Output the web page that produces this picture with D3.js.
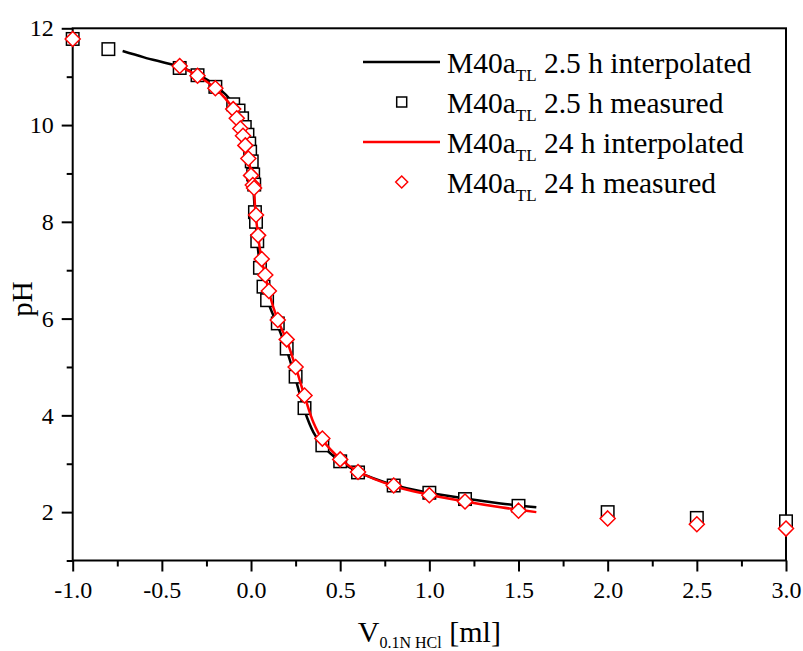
<!DOCTYPE html>
<html>
<head>
<meta charset="utf-8">
<script src="https://cdn.jsdelivr.net/npm/d3@7"></script>
<style>
  body { margin: 0; background: #fff; }
  svg { display: block; }
  text { font-family: "Liberation Serif", "Times New Roman", serif; fill: #000; }
</style>
</head>
<body>
<div id="chart"></div>
<script>
// measured points, 2.5 h
const sqX = [-1.0, -0.8, -0.4, -0.3, -0.2, -0.1, -0.07, -0.05, -0.035, -0.02, -0.01, -0.005, 0.004, 0.012, 0.018,
    0.022, 0.028, 0.035, 0.05, 0.07, 0.09, 0.15, 0.2, 0.25, 0.3, 0.4, 0.5, 0.6, 0.8, 1.0, 1.2, 1.5, 2.0, 2.5, 3.0];
const sqY = [11.78, 11.57, 11.18, 11.03, 10.79, 10.43, 10.3, 10.14, 9.96, 9.8, 9.62, 9.45, 9.25, 8.98, 8.77,
    8.2, 8.0, 7.6, 7.05, 6.66, 6.38, 5.9, 5.38, 4.8, 4.15, 3.38, 3.05, 2.82, 2.55, 2.4, 2.27, 2.13, 2.0, 1.88, 1.81];

// measured points, 24 h
const diaX = [-1.0, -0.4, -0.3, -0.2, -0.1, -0.08, -0.06, -0.045, -0.032, -0.015, 0.0, 0.01, 0.017,
    0.028, 0.04, 0.06, 0.08, 0.1, 0.15, 0.2, 0.25, 0.3, 0.4, 0.5, 0.6, 0.8, 1.0, 1.2, 1.5, 2.0, 2.5, 3.0];
const diaY = [11.78, 11.22, 11.02, 10.76, 10.33, 10.14, 9.93, 9.78, 9.58, 9.31, 8.96, 8.76, 8.7,
    8.14, 7.72, 7.23, 6.9, 6.57, 5.97, 5.57, 5.0, 4.41, 3.52, 3.09, 2.83, 2.55, 2.35, 2.22, 2.03, 1.87, 1.75, 1.66];

// interpolated curves
const lineBlackX = [-0.72, -0.6, -0.4, -0.3, -0.2, -0.1, -0.05, -0.02, 0.0, 0.01, 0.02, 0.03, 0.05, 0.08, 0.1,
    0.15, 0.2, 0.25, 0.3, 0.35, 0.4, 0.5, 0.6, 0.8, 1.0, 1.2, 1.4, 1.6];
const lineBlackY = [11.53, 11.4, 11.2, 11.05, 10.82, 10.45, 10.1, 9.75, 9.3, 8.9, 8.3, 7.8, 7.1, 6.6, 6.3,
    5.85, 5.35, 4.75, 4.1, 3.65, 3.38, 3.05, 2.83, 2.56, 2.4, 2.28, 2.18, 2.1];
const lineRedX = [-0.4, -0.3, -0.2, -0.1, -0.05, -0.02, 0.0, 0.015, 0.025, 0.04, 0.06, 0.08, 0.1,
    0.15, 0.2, 0.25, 0.3, 0.35, 0.4, 0.5, 0.6, 0.8, 1.0, 1.2, 1.4, 1.6];
const lineRedY = [11.22, 11.02, 10.76, 10.33, 9.9, 9.45, 9.0, 8.7, 8.2, 7.7, 7.2, 6.9, 6.55,
    5.97, 5.55, 5.0, 4.4, 3.85, 3.5, 3.1, 2.84, 2.54, 2.36, 2.22, 2.1, 2.0];

const xMajor = [-1.0, -0.5, 0.0, 0.5, 1.0, 1.5, 2.0, 2.5, 3.0];
const xMinor = [-0.75, -0.25, 0.25, 0.75, 1.25, 1.75, 2.25, 2.75];
const yMajor = [2, 4, 6, 8, 10, 12];
const yMinor = [1, 3, 5, 7, 9, 11];

const legendNames = ["2.5 h interpolated", "2.5 h measured", "24 h interpolated", "24 h measured"];

var width = 803;
var height = 651;
var padL = 72.7, padR = 786, padT = 28.3, padB = 560.5;

var svg = d3.select("#chart").append("svg")
    .attr("width", width)
    .attr("height", height);

var x = d3.scaleLinear().domain([-1, 3]).range([padL, padR]);
var y = d3.scaleLinear().domain([1, 12]).range([padB, padT]);

function zip(xs, ys) { return xs.map((v, i) => [v, ys[i]]); }

// axes
var gx = svg.append("g").attr("transform", "translate(0," + padB + ")");
gx.call(d3.axisBottom(x).tickValues(xMajor).tickSize(11).tickPadding(9).tickFormat(d => d.toFixed(1)));
gx.call(g => g.select(".domain").remove());
var gx2 = svg.append("g").attr("transform", "translate(0," + padB + ")");
gx2.call(d3.axisBottom(x).tickValues(xMinor).tickSize(6).tickFormat(""));
gx2.call(g => g.select(".domain").remove());

var gy = svg.append("g").attr("transform", "translate(" + padL + ",0)");
gy.call(d3.axisLeft(y).tickValues(yMajor).tickSize(11).tickPadding(8).tickFormat(d => d));
gy.call(g => g.select(".domain").remove());
var gy2 = svg.append("g").attr("transform", "translate(" + padL + ",0)");
gy2.call(d3.axisLeft(y).tickValues(yMinor).tickSize(6).tickFormat(""));
gy2.call(g => g.select(".domain").remove());

svg.selectAll("g").attr("font-family", null).attr("font-size", null);
svg.selectAll(".tick line").attr("stroke", "#000").attr("stroke-width", 2);
svg.selectAll(".tick text").style("font-size", "24px").attr("fill", "#000");

// frame
svg.append("rect")
    .attr("x", padL).attr("y", padT)
    .attr("width", padR - padL).attr("height", padB - padT)
    .attr("fill", "none").attr("stroke", "#000").attr("stroke-width", 2);

var line = d3.line().x(d => x(d[0])).y(d => y(d[1])).curve(d3.curveCatmullRom.alpha(0.5));

var plot = svg.append("g");

plot.append("path")
    .datum(zip(lineBlackX, lineBlackY))
    .attr("d", line)
    .attr("fill", "none").attr("stroke", "#000").attr("stroke-width", 2.5);

var sq = 12.5;
plot.selectAll("rect.sq").data(zip(sqX, sqY)).enter()
    .append("rect").attr("class", "sq")
    .attr("x", d => x(d[0]) - sq / 2).attr("y", d => y(d[1]) - sq / 2)
    .attr("width", sq).attr("height", sq)
    .attr("fill", "#fff").attr("stroke", "#000").attr("stroke-width", 1.5);

plot.append("path")
    .datum(zip(lineRedX, lineRedY))
    .attr("d", line)
    .attr("fill", "none").attr("stroke", "#ff0000").attr("stroke-width", 2.5);

var dr = 7.5;
var diamond = "M0," + (-dr) + "L" + dr + ",0L0," + dr + "L" + (-dr) + ",0Z";
plot.selectAll("path.dia").data(zip(diaX, diaY)).enter()
    .append("path").attr("class", "dia")
    .attr("d", diamond)
    .attr("transform", d => "translate(" + x(d[0]) + "," + y(d[1]) + ")")
    .attr("fill", "#fff").attr("stroke", "#ff0000").attr("stroke-width", 1.5);

// axis titles
svg.append("text")
    .attr("transform", "translate(32,299) rotate(-90)")
    .attr("text-anchor", "middle")
    .style("font-size", "29px")
    .text("pH");

var xt = svg.append("text")
    .attr("x", (padL + padR) / 2).attr("y", 642)
    .attr("text-anchor", "middle")
    .style("font-size", "30px");
xt.append("tspan").text("V");
xt.append("tspan").attr("dy", 6).style("font-size", "16px").text("0.1N HCl");
xt.append("tspan").attr("dy", -6).text(" [ml]");

// legend
var legend = svg.append("g");
var rowY = [62, 102, 142, 182];
legendNames.forEach(function (name, i) {
    var ry = rowY[i];
    if (i === 0 || i === 2) {
        legend.append("line")
            .attr("x1", 363).attr("x2", 440).attr("y1", ry).attr("y2", ry)
            .attr("stroke", i === 0 ? "#000" : "#ff0000").attr("stroke-width", 2.5);
    } else if (i === 1) {
        legend.append("rect")
            .attr("x", 401.7 - 5).attr("y", ry - 5).attr("width", 10).attr("height", 10)
            .attr("fill", "#fff").attr("stroke", "#000").attr("stroke-width", 1.5);
    } else {
        legend.append("path")
            .attr("d", "M0,-6L6,0L0,6L-6,0Z")
            .attr("transform", "translate(401.7," + ry + ")")
            .attr("fill", "#fff").attr("stroke", "#ff0000").attr("stroke-width", 1.5);
    }
    var t = legend.append("text").attr("x", 447).attr("y", ry + 10.5).style("font-size", "29.5px");
    t.append("tspan").text("M40a");
    t.append("tspan").attr("dy", 8).style("font-size", "17px").text("TL");
    t.append("tspan").attr("dy", -8).text(" " + name);
});
</script>
</body>
</html>
